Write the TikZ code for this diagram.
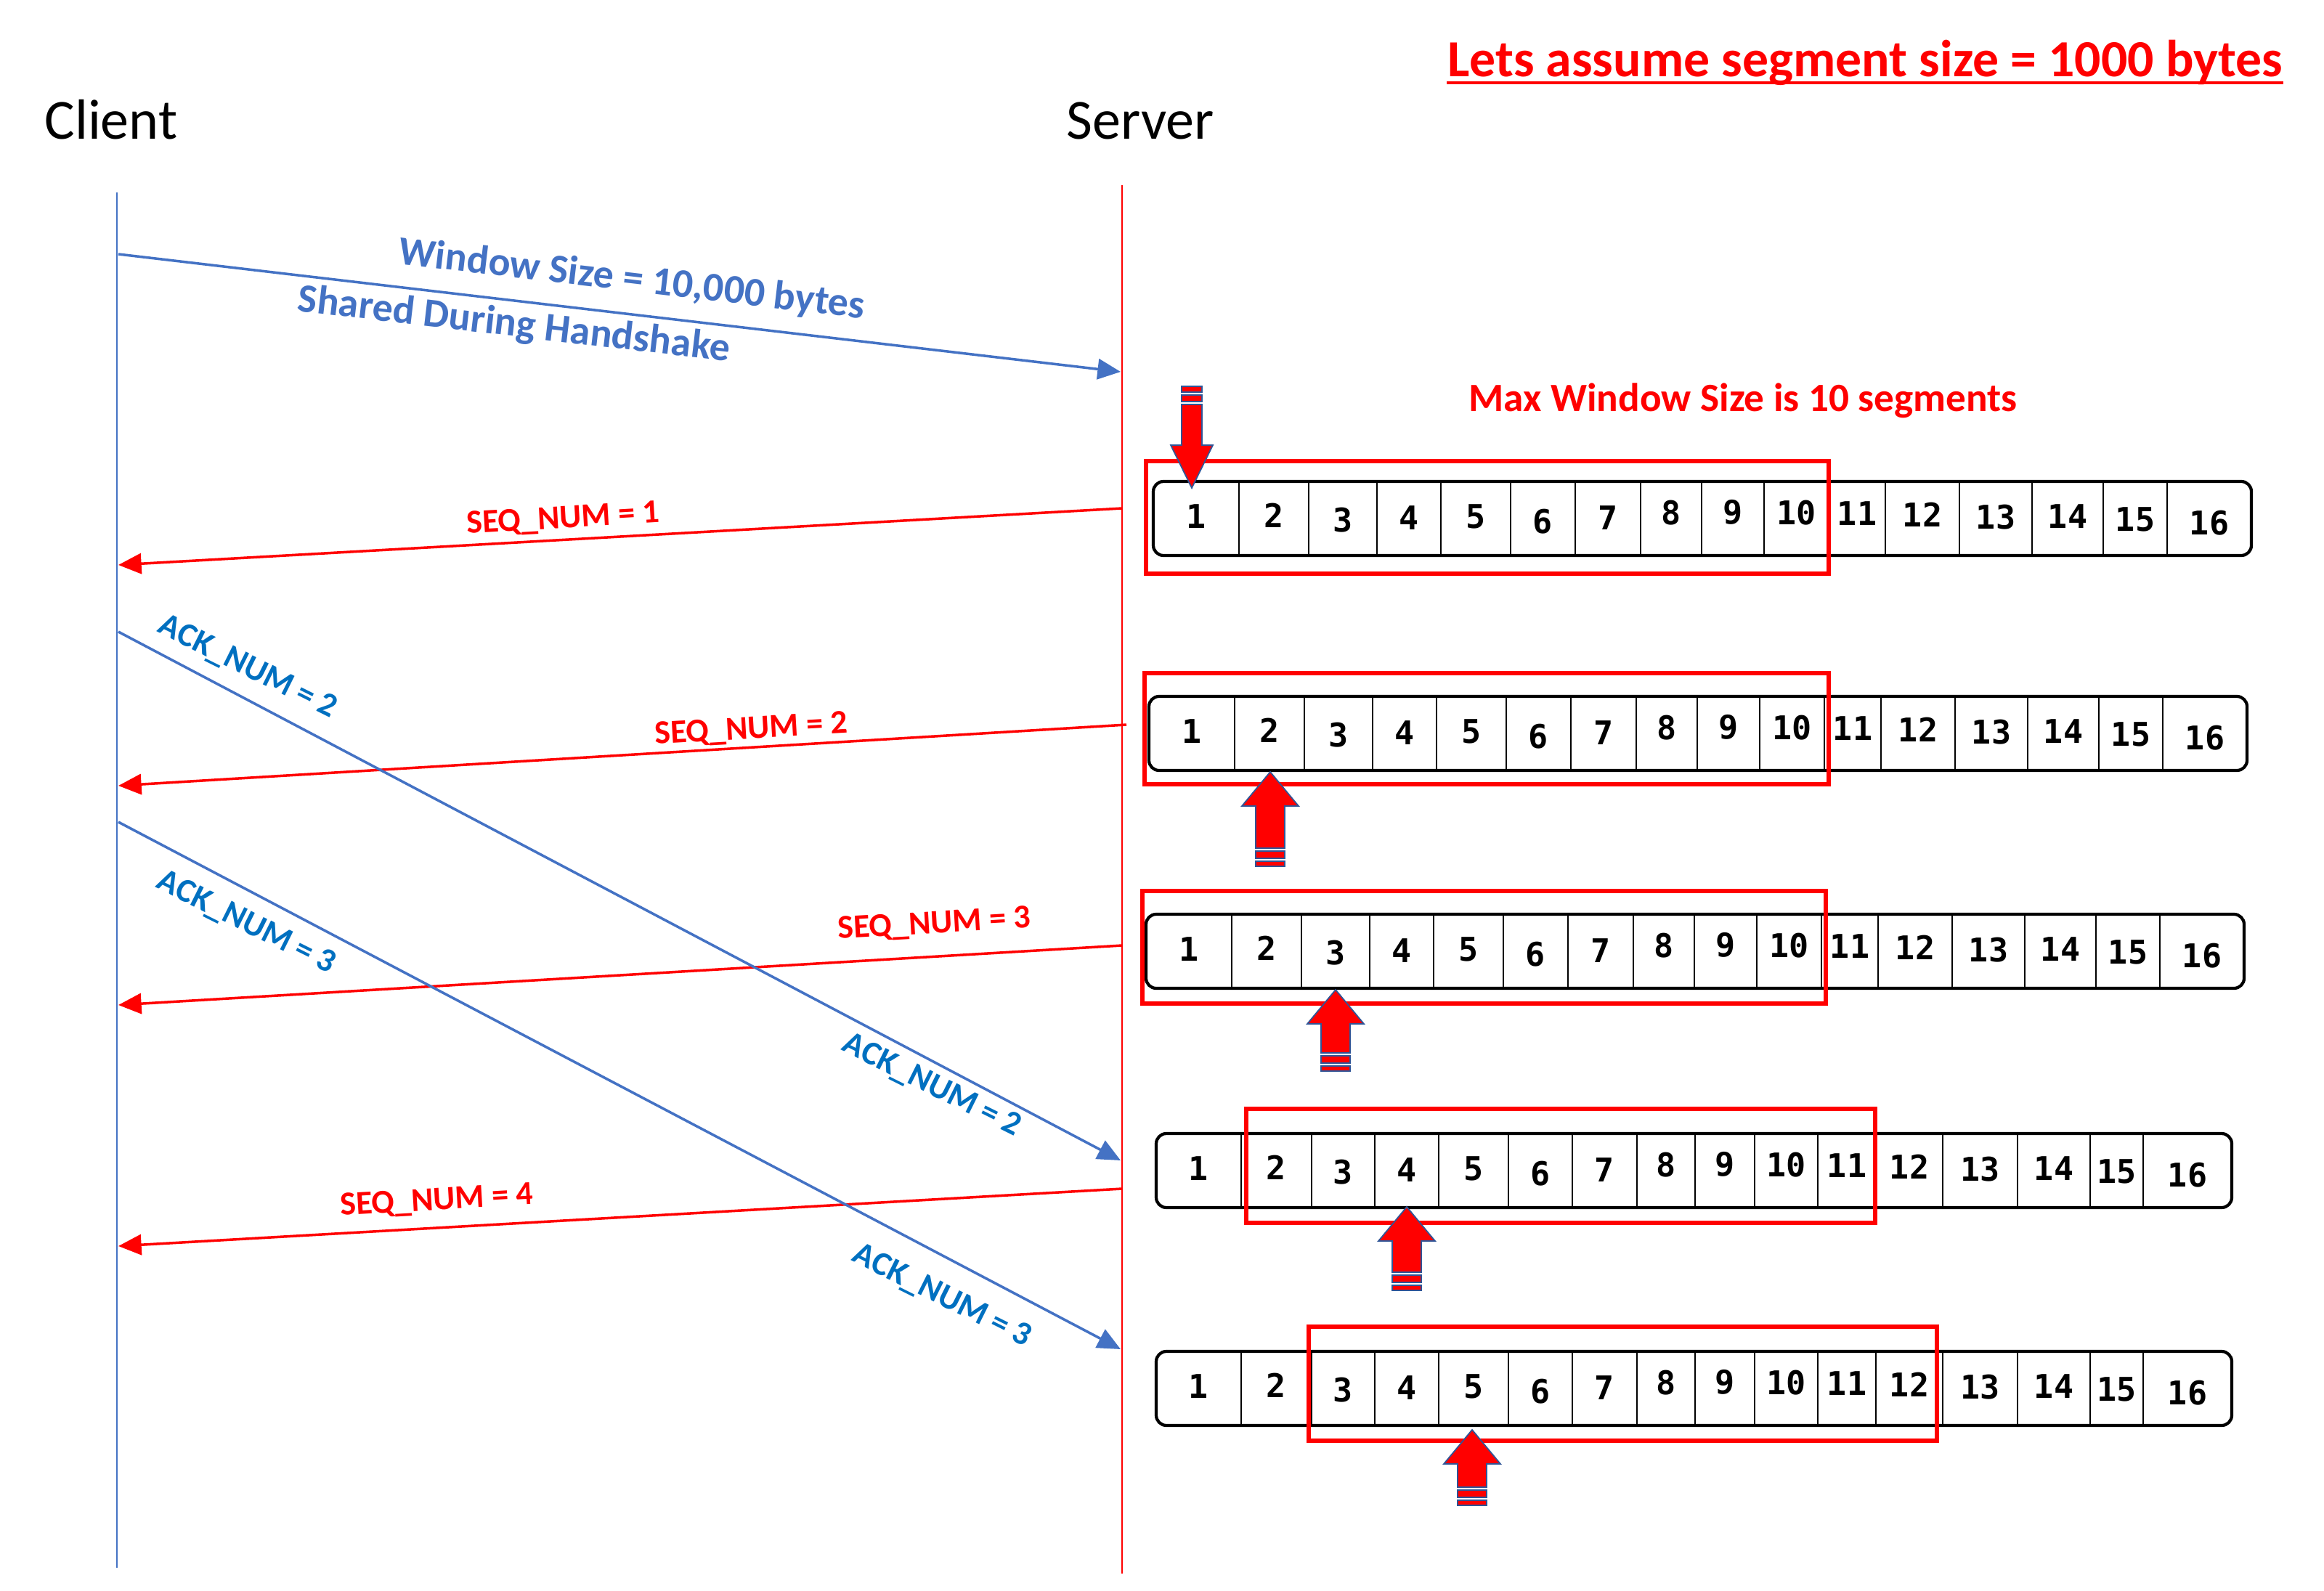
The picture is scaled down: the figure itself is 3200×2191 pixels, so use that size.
\documentclass[tikz,border=0pt]{standalone}
\usepackage{fontspec}
\setmainfont{Carlito}
\newfontfamily\cellfont{DejaVu Sans Mono}
\usetikzlibrary{arrows.meta}
\definecolor{cblue}{HTML}{4472C4}
\definecolor{ablue}{HTML}{0070C0}
\definecolor{oblue}{HTML}{2F5597}
\definecolor{pred}{HTML}{FF0000}
\tikzset{
  lifeC/.style={draw=cblue, line width=0.8pt},
  lifeS/.style={draw=pred, line width=0.8pt},
  msgB/.style={draw=cblue, line width=1pt, -{Triangle[length=9pt,width=8pt]}},
  msgR/.style={draw=pred, line width=1pt, -{Triangle[length=9pt,width=8pt]}},
  lbl/.style={font=\bfseries\fontsize{13.1}{15}\selectfont, inner sep=0pt},
  seqlbl/.style={lbl, text=pred, anchor=base, rotate=3.3},
  acklbl/.style={lbl, text=ablue, anchor=center, rotate=-26.5},
  hslbl/.style={font=\bfseries\fontsize{15.9}{18}\selectfont, text=cblue, inner sep=0pt, anchor=base, rotate=-6.7},
  headlbl/.style={font=\fontsize{22.2}{26}\selectfont, inner sep=0pt, anchor=base},
  rowframe/.style={draw=black, line width=1.2pt, rounded corners=0.14cm},
  sepline/.style={draw=black, line width=0.7pt},
  digit/.style={font=\cellfont\bfseries\fontsize{12.8}{14}\selectfont, inner sep=0pt, anchor=center},
  winbox/.style={draw=pred, line width=1.7pt},
  blockarr/.style={fill=pred, draw=oblue, line width=0.5pt},
}
% #1 name, #2 ytop, #3 ybot, #4 left, #5 right, #6 list of l/r
\newcommand\segrow[6]{%
  \foreach \l/\r [count=\i] in #6 {
    \ifnum\i>1 \draw[sepline] (\l,#2) -- (\l,#3); \fi
    \pgfmathsetmacro\dy{{-3,-4,2,-1,-3,4,-1,-8,-9,-8,-7,-5,-2,-3,1,6}[\i-1]}
    \node[digit] (#1c\i) at ({(\l+\r)/2},{(#2+#3)/2+\dy}) {\i};
  }
  \draw[rowframe] (#4,#2) rectangle (#5,#3);
}
% x, tip y, shaft length
\newcommand\uparr[3]{%
  \draw[blockarr] (#1,#2) -- ({#1+39},{#2+47}) -- ({#1+20},{#2+47}) -- ({#1+20},{#2+47+#3})
     -- ({#1-20},{#2+47+#3}) -- ({#1-20},{#2+47}) -- ({#1-39},{#2+47}) -- cycle;
  \draw[blockarr] ({#1-20},{#2+51+#3}) rectangle ({#1+20},{#2+61+#3});
  \draw[blockarr] ({#1-20},{#2+65+#3}) rectangle ({#1+20},{#2+72+#3});
}
\def\rowA{1588/1706,1706/1802,1802/1896,1896/1984,1984/2080,2080/2169,2169/2259,2259/2343,2343/2429,2429/2518,2518/2596,2596/2698,2698/2798,2798/2896,2896/2984,2984/3100}
\def\rowB{1592/1709,1709/1806,1806/1893,1893/1981,1981/2077,2077/2165,2165/2254,2254/2334,2334/2416,2416/2503,2503/2583,2583/2675,2675/2778,2778/2878,2878/2951,2951/3073}
\begin{document}
\begin{tikzpicture}[x=0.01cm, y=-0.01cm]
\fill[white] (0,0) rectangle (3200,2191);
\useasboundingbox (0,0) rectangle (3200,2191);

% headings
\node[headlbl] (client) at (153,192) {Client};
\node[headlbl] (server) at (1570,192) {Server};
\node[font=\bfseries\fontsize{20.4}{24}\selectfont, text=pred, inner sep=0pt, anchor=base east] (title) at (3144,106) {Lets assume segment size = 1000 bytes};
\draw[pred, line width=1.15pt] ([yshift=-0.08cm]title.base west) -- ([yshift=-0.08cm]title.base east);
\node[font=\bfseries\fontsize{15.7}{18}\selectfont, text=pred, inner sep=0pt, anchor=base] (maxwin) at (2400,566) {Max Window Size is 10 segments};

% lifelines
\coordinate (cTop) at (161,265);
\coordinate (cBot) at (161,2159);
\coordinate (sTop) at (1545,255);
\coordinate (sBot) at (1545,2167);
\draw[lifeC] (cTop) -- (cBot);
\draw[lifeS] (sTop) -- (sBot);

% handshake
\coordinate (hsA) at (163,350);
\coordinate (hsB) at (1543,512);
\draw[msgB] (hsA) -- (hsB);
\node[hslbl] (hs1) at (868,401) {Window Size = 10,000 bytes};
\node[hslbl] (hs2) at (706,463) {Shared During Handshake};

% SEQ messages
\coordinate (s1a) at (1545,700);  \coordinate (s1b) at (163,778);
\coordinate (s2a) at (1551,998);  \coordinate (s2b) at (163,1082);
\coordinate (s3a) at (1545,1302); \coordinate (s3b) at (163,1384);
\coordinate (s4a) at (1545,1637); \coordinate (s4b) at (163,1716);
\draw[msgR] (s1a) -- (s1b);
\draw[msgR] (s2a) -- (s2b);
\draw[msgR] (s3a) -- (s3b);
\draw[msgR] (s4a) -- (s4b);
\node[seqlbl] (sl1) at (776,727) {SEQ\_NUM = 1};
\node[seqlbl] (sl2) at (1035,1017) {SEQ\_NUM = 2};
\node[seqlbl] (sl3) at (1287,1285) {SEQ\_NUM = 3};
\node[seqlbl] (sl4) at (602,1666) {SEQ\_NUM = 4};

% ACK messages
\coordinate (a2a) at (163,870);  \coordinate (a2b) at (1543,1598);
\coordinate (a3a) at (163,1132); \coordinate (a3b) at (1543,1858);
\draw[msgB] (a2a) -- (a2b);
\draw[msgB] (a3a) -- (a3b);
\node[acklbl] (al2a) at (341,919) {ACK\_NUM = 2};
\node[acklbl] (al3a) at (339,1271) {ACK\_NUM = 3};
\node[acklbl] (al2b) at (1283,1495) {ACK\_NUM = 2};
\node[acklbl] (al3b) at (1297,1785) {ACK\_NUM = 3};

% segment rows
\segrow{r1}{663}{765}{1588}{3100}{\rowA}
\begin{scope}[xshift=-0.06cm]
\segrow{r2}{959}{1061}{1588}{3100}{\rowA}
\end{scope}
\begin{scope}[xshift=-0.10cm]
\segrow{r3}{1259}{1361}{1588}{3100}{\rowA}
\end{scope}
\segrow{r4}{1561}{1663}{1592}{3073}{\rowB}
\segrow{r5}{1861}{1963}{1592}{3073}{\rowB}

% windows
\draw[winbox] (1578,635) rectangle (2518,790);
\draw[winbox] (1576,927) rectangle (2518,1080);
\draw[winbox] (1573,1227) rectangle (2514,1382);
\draw[winbox] (1716,1527) rectangle (2582,1684);
\draw[winbox] (1802,1827) rectangle (2667,1984);

% block arrows
\draw[blockarr] (1641,672) -- (1670,613) -- (1655,613) -- (1655,557) -- (1627,557) -- (1627,613) -- (1612,613) -- cycle;
\draw[blockarr] (1627,544) rectangle (1655,553);
\draw[blockarr] (1627,532) rectangle (1655,540);
\uparr{1749}{1063}{58}
\uparr{1839}{1363}{40}
\uparr{1937}{1662}{43}
\uparr{2027}{1969}{32}
\end{tikzpicture}
\end{document}
